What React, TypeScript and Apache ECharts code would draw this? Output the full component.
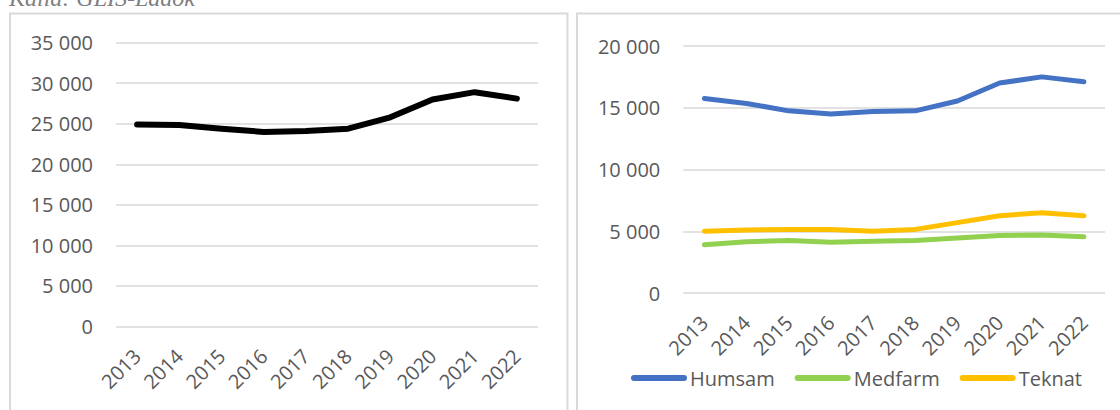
import React, { useEffect, useRef } from "react";
import * as echarts from "echarts";

const years = ["2013", "2014", "2015", "2016", "2017", "2018", "2019", "2020", "2021", "2022"];
const total = [24900, 24850, 24400, 24000, 24100, 24400, 25800, 28000, 28900, 28100];
const humsam = [15750, 15350, 14750, 14500, 14700, 14750, 15550, 17000, 17500, 17100];
const medfarm = [3900, 4150, 4250, 4100, 4200, 4250, 4450, 4650, 4700, 4550];
const teknat = [5000, 5100, 5150, 5150, 5000, 5150, 5700, 6250, 6500, 6250];
const seriesNames = ["Humsam", "Medfarm", "Teknat"];
const caption = "Källa: GLIS-Ladok";

const FONT = "'Open Sans', 'Noto Sans', sans-serif";
const TEXT = "#595959";
const GRID = "#d9d9d9";

const fmt = (v: number) =>
  v === 0 ? "0" : `${Math.floor(v / 1000)} ${String(v % 1000).padStart(3, "0")}`;

export default function App() {
  const ref = useRef<HTMLDivElement>(null);
  useEffect(() => {
    if (!ref.current) return;
    const chart = echarts.init(ref.current, undefined, { renderer: "svg" });
    const xAxisBase = {
      type: "category",
      data: years,
      boundaryGap: true,
      axisLine: { show: false },
      axisTick: { show: false },
      axisLabel: {
        rotate: 45,
        margin: 26,
        color: TEXT,
        fontSize: 20,
        fontFamily: FONT,
        interval: 0,
      },
    };
    const yAxisBase = {
      type: "value",
      min: 0,
      interval: 5000,
      axisLine: { show: false },
      axisTick: { show: false },
      splitLine: { lineStyle: { color: GRID, width: 1.5 } },
      axisLabel: {
        color: TEXT,
        fontSize: 20,
        fontFamily: FONT,
        margin: 23,
        formatter: fmt,
      },
    };
    const lineBase = {
      type: "line",
      symbol: "none",
      smooth: false,
    };
    chart.setOption({
      animation: false,
      grid: [
        { left: 116, right: 582, top: 42.7, bottom: 83.5 },
        { left: 683.3, right: 15, top: 46, bottom: 117 },
      ],
      xAxis: [
        { ...xAxisBase, gridIndex: 0 },
        { ...xAxisBase, gridIndex: 1 },
      ],
      yAxis: [
        { ...yAxisBase, gridIndex: 0, max: 35000 },
        { ...yAxisBase, gridIndex: 1, max: 20000 },
      ],
      legend: {
        data: seriesNames,
        left: 626,
        top: 363,
        itemWidth: 56,
        itemHeight: 6,
        itemGap: 20,
        icon: "path://M3,0 L53,0 A3,3 0 0 1 53,6 L3,6 A3,3 0 0 1 3,0 Z",
        textStyle: { color: TEXT, fontSize: 20, fontFamily: FONT, padding: [0, 0, 0, -2] },
      },
      graphic: [
        {
          type: "rect",
          shape: { x: 10, y: 13.5, width: 557.5, height: 420 },
          style: { fill: "none", stroke: GRID, lineWidth: 2 },
          silent: true,
        },
        {
          type: "rect",
          shape: { x: 577, y: 13.5, width: 600, height: 420 },
          style: { fill: "none", stroke: GRID, lineWidth: 2 },
          silent: true,
        },
        {
          type: "text",
          left: 9,
          top: -14,
          style: {
            text: caption,
            fill: "#7f7f7f",
            font: "italic 24px 'Liberation Serif', 'DejaVu Serif', serif",
          },
          silent: true,
        },
      ],
      series: [
        {
          ...lineBase,
          name: "Totalt",
          xAxisIndex: 0,
          yAxisIndex: 0,
          data: total,
          lineStyle: { color: "#000000", width: 6, cap: "round", join: "round" },
          itemStyle: { color: "#000000" },
        },
        {
          ...lineBase,
          name: "Humsam",
          xAxisIndex: 1,
          yAxisIndex: 1,
          data: humsam,
          lineStyle: { color: "#4472C4", width: 5, cap: "round", join: "round" },
          itemStyle: { color: "#4472C4" },
        },
        {
          ...lineBase,
          name: "Medfarm",
          xAxisIndex: 1,
          yAxisIndex: 1,
          data: medfarm,
          lineStyle: { color: "#92D050", width: 5, cap: "round", join: "round" },
          itemStyle: { color: "#92D050" },
        },
        {
          ...lineBase,
          name: "Teknat",
          xAxisIndex: 1,
          yAxisIndex: 1,
          data: teknat,
          lineStyle: { color: "#FFC000", width: 5, cap: "round", join: "round" },
          itemStyle: { color: "#FFC000" },
        },
      ],
    });
    return () => chart.dispose();
  }, []);
  return (
    <div
      ref={ref}
      style={{ position: "absolute", left: 0, top: 0, width: 1120, height: 410, background: "#fff" }}
    />
  );
}
